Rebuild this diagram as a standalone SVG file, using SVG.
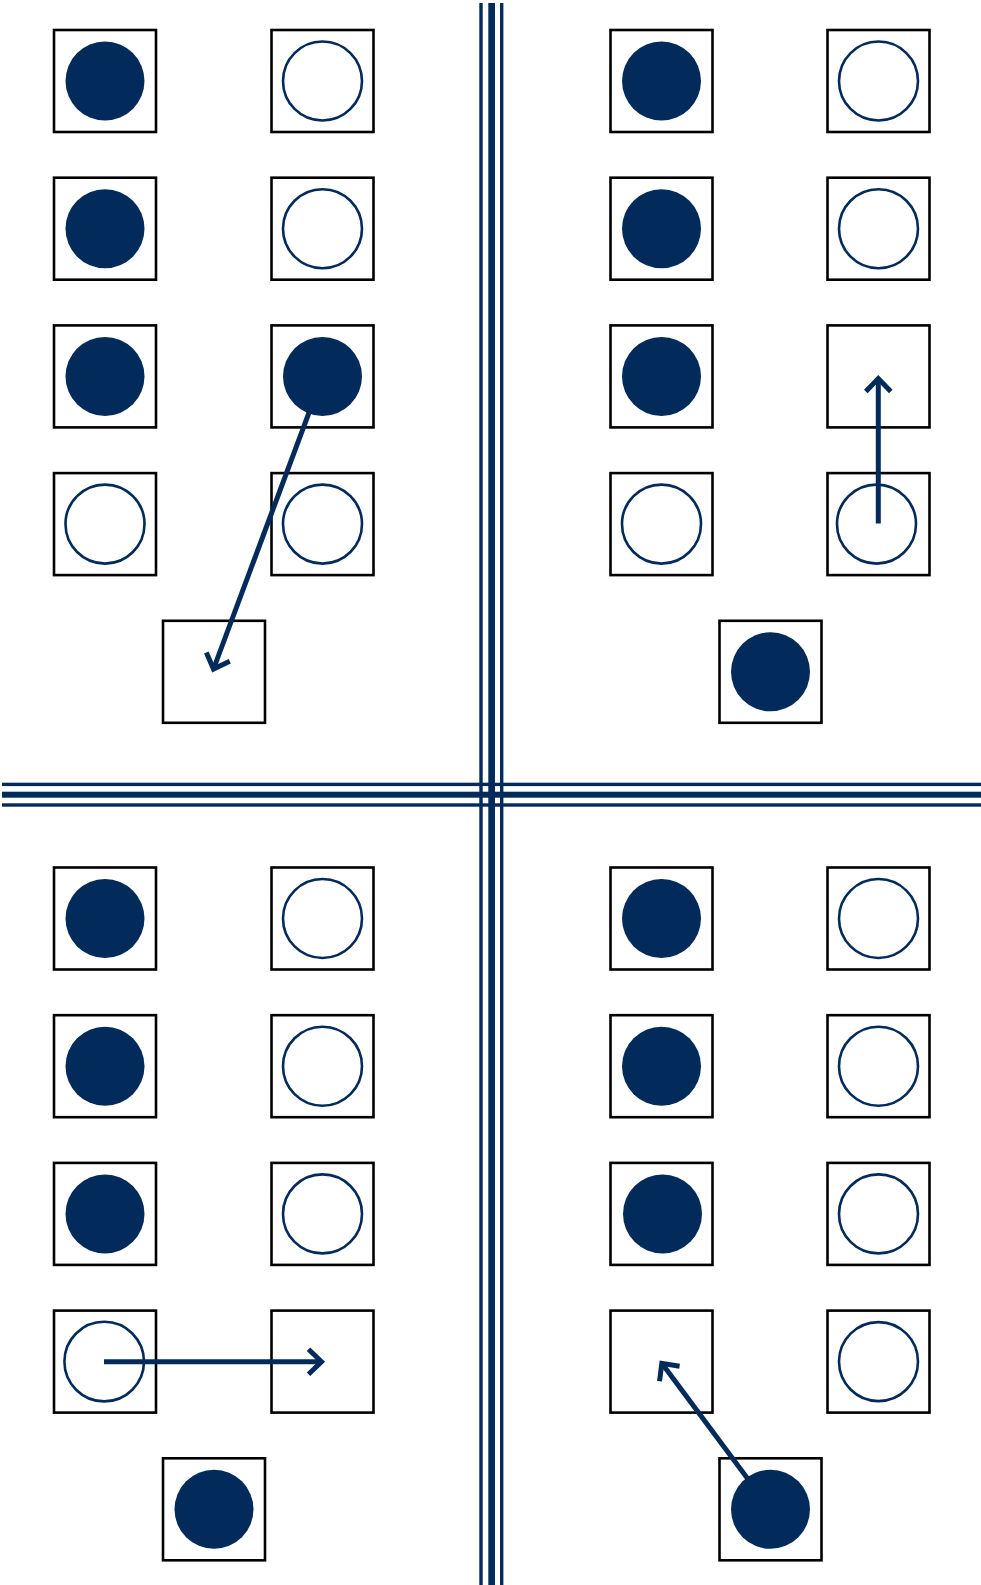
<svg xmlns="http://www.w3.org/2000/svg" width="981" height="1585" viewBox="0 0 981 1585">
<style>
.box{fill:#fff;stroke:#000;stroke-width:2.6}
.full{fill:#022b5c}
.hollow{fill:none;stroke:#022b5c;stroke-width:2.6}
.div{fill:#022b5c}
.arrow{fill:none;stroke:#022b5c;stroke-width:5;marker-end:url(#head)}
</style>
<defs>
<marker id="head" markerUnits="userSpaceOnUse" viewBox="-20 -20 40 40" markerWidth="40" markerHeight="40" refX="0" refY="0" orient="auto">
<path d="M-13,-12.5 L0,0 L-13,12.5" fill="none" stroke="#022b5c" stroke-width="5" stroke-linejoin="miter"/>
</marker>
</defs>
<rect width="981" height="1585" fill="#fff"/>
<g id="dividers">
<rect class="div" x="479.3" y="3" width="3.4" height="1582"/>
<rect class="div" x="488.3" y="3" width="6.7" height="1582"/>
<rect class="div" x="500" y="3" width="3.4" height="1582"/>
<rect class="div" x="2" y="782.7" width="979" height="3.4"/>
<rect class="div" x="2" y="791.7" width="979" height="6"/>
<rect class="div" x="2" y="803.3" width="979" height="3.4"/>
</g>
<!-- top-left -->
<g id="tl">
<g id="tl-a1"><rect class="box" x="54" y="30" width="102" height="102"/><circle class="full" cx="105" cy="81" r="39.5"/></g>
<g id="tl-b1"><rect class="box" x="271.5" y="30" width="102" height="102"/><circle class="hollow" cx="322.5" cy="81" r="39.5"/></g>
<g id="tl-a2"><rect class="box" x="54" y="177.7" width="102" height="102"/><circle class="full" cx="105" cy="228.7" r="39.5"/></g>
<g id="tl-b2"><rect class="box" x="271.5" y="177.7" width="102" height="102"/><circle class="hollow" cx="322.5" cy="228.7" r="39.5"/></g>
<g id="tl-a3"><rect class="box" x="54" y="325.4" width="102" height="102"/><circle class="full" cx="105" cy="376.4" r="39.5"/></g>
<g id="tl-b3"><rect class="box" x="271.5" y="325.4" width="102" height="102"/><circle class="full" cx="322.5" cy="376.4" r="39.5"/></g>
<g id="tl-a4"><rect class="box" x="54" y="473.1" width="102" height="102"/><circle class="hollow" cx="105" cy="524.1" r="39.5"/></g>
<g id="tl-b4"><rect class="box" x="271.5" y="473.1" width="102" height="102"/><circle class="hollow" cx="322.5" cy="524.1" r="39.5"/></g>
<g id="tl-m5"><rect class="box" x="163" y="620.8" width="102" height="102"/></g>
</g>
<!-- top-right -->
<g id="tr">
<g id="tr-c1"><rect class="box" x="610.5" y="30" width="102" height="102"/><circle class="full" cx="661.5" cy="81" r="39.5"/></g>
<g id="tr-d1"><rect class="box" x="827.5" y="30" width="102" height="102"/><circle class="hollow" cx="878.5" cy="81" r="39.5"/></g>
<g id="tr-c2"><rect class="box" x="610.5" y="177.7" width="102" height="102"/><circle class="full" cx="661.5" cy="228.7" r="39.5"/></g>
<g id="tr-d2"><rect class="box" x="827.5" y="177.7" width="102" height="102"/><circle class="hollow" cx="878.5" cy="228.7" r="39.5"/></g>
<g id="tr-c3"><rect class="box" x="610.5" y="325.4" width="102" height="102"/><circle class="full" cx="661.5" cy="376.4" r="39.5"/></g>
<g id="tr-d3"><rect class="box" x="827.5" y="325.4" width="102" height="102"/></g>
<g id="tr-c4"><rect class="box" x="610.5" y="473.1" width="102" height="102"/><circle class="hollow" cx="661.5" cy="524.1" r="39.5"/></g>
<g id="tr-d4"><rect class="box" x="827.5" y="473.1" width="102" height="102"/><circle class="hollow" cx="876.5" cy="524.1" r="39.5"/></g>
<g id="tr-m5"><rect class="box" x="719.5" y="620.8" width="102" height="102"/><circle class="full" cx="770.5" cy="671.8" r="39.5"/></g>
</g>
<!-- bottom-left -->
<g id="bl">
<g id="bl-a1"><rect class="box" x="54" y="867.5" width="102" height="102"/><circle class="full" cx="105" cy="918.5" r="39.5"/></g>
<g id="bl-b1"><rect class="box" x="271.5" y="867.5" width="102" height="102"/><circle class="hollow" cx="322.5" cy="918.5" r="39.5"/></g>
<g id="bl-a2"><rect class="box" x="54" y="1015.2" width="102" height="102"/><circle class="full" cx="105" cy="1066.2" r="39.5"/></g>
<g id="bl-b2"><rect class="box" x="271.5" y="1015.2" width="102" height="102"/><circle class="hollow" cx="322.5" cy="1066.2" r="39.5"/></g>
<g id="bl-a3"><rect class="box" x="54" y="1162.9" width="102" height="102"/><circle class="full" cx="105" cy="1213.9" r="39.5"/></g>
<g id="bl-b3"><rect class="box" x="271.5" y="1162.9" width="102" height="102"/><circle class="hollow" cx="322.5" cy="1213.9" r="39.5"/></g>
<g id="bl-a4"><rect class="box" x="54" y="1310.6" width="102" height="102"/><circle class="hollow" cx="104.2" cy="1361.6" r="39.8"/></g>
<g id="bl-b4"><rect class="box" x="271.5" y="1310.6" width="102" height="102"/></g>
<g id="bl-m5"><rect class="box" x="163" y="1458.3" width="102" height="102"/><circle class="full" cx="214" cy="1509.3" r="39.5"/></g>
</g>
<!-- bottom-right -->
<g id="br">
<g id="br-c1"><rect class="box" x="610.5" y="867.5" width="102" height="102"/><circle class="full" cx="661.5" cy="918.5" r="39.5"/></g>
<g id="br-d1"><rect class="box" x="827.5" y="867.5" width="102" height="102"/><circle class="hollow" cx="878.5" cy="918.5" r="39.5"/></g>
<g id="br-c2"><rect class="box" x="610.5" y="1015.2" width="102" height="102"/><circle class="full" cx="661.5" cy="1066.2" r="39.5"/></g>
<g id="br-d2"><rect class="box" x="827.5" y="1015.2" width="102" height="102"/><circle class="hollow" cx="878.5" cy="1066.2" r="39.5"/></g>
<g id="br-c3"><rect class="box" x="610.5" y="1162.9" width="102" height="102"/><circle class="full" cx="662.5" cy="1213.9" r="39.5"/></g>
<g id="br-d3"><rect class="box" x="827.5" y="1162.9" width="102" height="102"/><circle class="hollow" cx="878.5" cy="1213.9" r="39.5"/></g>
<g id="br-c4"><rect class="box" x="610.5" y="1310.6" width="102" height="102"/></g>
<g id="br-d4"><rect class="box" x="827.5" y="1310.6" width="102" height="102"/><circle class="hollow" cx="878.5" cy="1361.6" r="39.5"/></g>
<g id="br-m5"><rect class="box" x="719.5" y="1458.3" width="102" height="102"/><circle class="full" cx="770.5" cy="1509.3" r="39.5"/></g>
</g>
<g id="connectors">
<line class="arrow" x1="322.5" y1="376.4" x2="213.5" y2="669"/>
<line class="arrow" x1="878.3" y1="523.5" x2="878.3" y2="378.5"/>
<line class="arrow" x1="104" y1="1361.7" x2="321.5" y2="1361.7"/>
<line class="arrow" x1="770.5" y1="1509.3" x2="661.8" y2="1363.3"/>
</g>
</svg>
